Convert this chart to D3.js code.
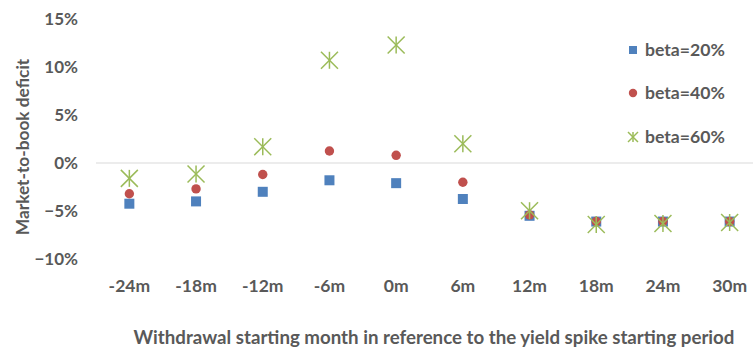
<!DOCTYPE html>
<html><head><meta charset="utf-8">
<script src="https://cdn.jsdelivr.net/npm/d3@7"></script>
<style>body{margin:0;background:#fff;overflow:hidden}svg{display:block}</style>
</head><body><svg id="c" width="753" height="347"></svg>
<script>
const categories = ["-24m","-18m","-12m","-6m","0m","6m","12m","18m","24m","30m"];
const beta20 = [-0.0424,-0.040,-0.030,-0.018,-0.021,-0.0375,-0.055,-0.061,-0.061,-0.061];
const beta40 = [-0.032,-0.027,-0.012,0.0125,0.008,-0.020,-0.054,-0.061,-0.061,-0.061];
const beta60 = [-0.016,-0.0115,0.017,0.107,0.123,0.020,-0.0497,-0.064,-0.063,-0.062];
const yTicks = [-0.10,-0.05,0,0.05,0.10,0.15];
const seriesNames = ["beta=20%","beta=40%","beta=60%"];
const colors = ["#4F81BD","#C0504D","#9BBB59"];
const yTitle = "Market-to-book deficit";
const xTitle = "Withdrawal starting month in reference to the yield spike starting period";

const svg = d3.select("#c");
const font = "Lato, 'Open Sans', sans-serif";
const txt = "#595959";
const x = d3.scaleBand().domain(categories).range([96, 763]);
const y = d3.scaleLinear().domain([-0.10, 0.15]).range([259, 19]);

// zero line
svg.append("line").attr("x1",96).attr("x2",763).attr("y1",y(0)).attr("y2",y(0))
  .attr("stroke","#D9D9D9").attr("stroke-width",1);

// y axis labels
const yAxis = d3.axisLeft(y).tickValues(yTicks).tickFormat(d3.format(".0%")).tickSize(0).tickPadding(0);
const gy = svg.append("g").attr("transform","translate(78,0)").call(yAxis);
gy.select(".domain").remove();
gy.selectAll("text").attr("font-family",font).attr("font-weight","bold").attr("font-size",17).attr("fill",txt);

// x axis labels
const xAxis = d3.axisBottom(x).tickSize(0).tickPadding(0);
const gx = svg.append("g").attr("transform","translate(0,292)").call(xAxis);
gx.select(".domain").remove();
gx.selectAll("text").attr("y",0).attr("dy",0).attr("font-family",font).attr("font-weight","bold").attr("font-size",17.5).attr("fill",txt);

// titles
svg.append("text").attr("x",434).attr("y",344).attr("text-anchor","middle")
  .attr("font-family",font).attr("font-weight","bold").attr("font-size",18.7).attr("fill",txt).text(xTitle);
svg.append("text").attr("transform","translate(29,147) rotate(-90)").attr("text-anchor","middle")
  .attr("font-family",font).attr("font-weight","bold").attr("font-size",17.3).attr("fill",txt).text(yTitle);

const cx = d => x(d) + x.bandwidth()/2;
function star(g, px, py, s, col){
  const r = s/2;
  g.append("line").attr("x1",px-r).attr("y1",py-r).attr("x2",px+r).attr("y2",py+r);
  g.append("line").attr("x1",px-r).attr("y1",py+r).attr("x2",px+r).attr("y2",py-r);
  g.append("line").attr("x1",px).attr("y1",py-r).attr("x2",px).attr("y2",py+r);
  g.selectAll("line").attr("stroke",col).attr("stroke-width",1.5);
}
// series
svg.append("g").selectAll("rect").data(beta20).join("rect")
  .attr("x",(d,i)=>cx(categories[i])-5).attr("y",d=>y(d)-5).attr("width",10).attr("height",10).attr("fill",colors[0]);
svg.append("g").selectAll("circle").data(beta40).join("circle")
  .attr("cx",(d,i)=>cx(categories[i])).attr("cy",d=>y(d)).attr("r",4.7).attr("fill",colors[1]);
const gs = svg.append("g");
beta60.forEach((d,i)=>{ star(gs.append("g"), cx(categories[i]), y(d), 17, colors[2]); });

// legend
const legY = [50, 93, 137];
const lg = svg.append("g");
seriesNames.forEach((n,i)=>{
  const ly = legY[i];
  if(i===0) lg.append("rect").attr("x",629).attr("y",ly-4).attr("width",8).attr("height",8).attr("fill",colors[0]);
  if(i===1) lg.append("circle").attr("cx",633).attr("cy",ly).attr("r",4.2).attr("fill",colors[1]);
  if(i===2) star(lg.append("g"), 633, ly, 10, colors[2]);
  lg.append("text").attr("x",645).attr("y",ly).attr("dy","0.35em").attr("font-family",font)
    .attr("font-weight","bold").attr("font-size",17.6).attr("fill",txt).text(n);
});
</script></body></html>
